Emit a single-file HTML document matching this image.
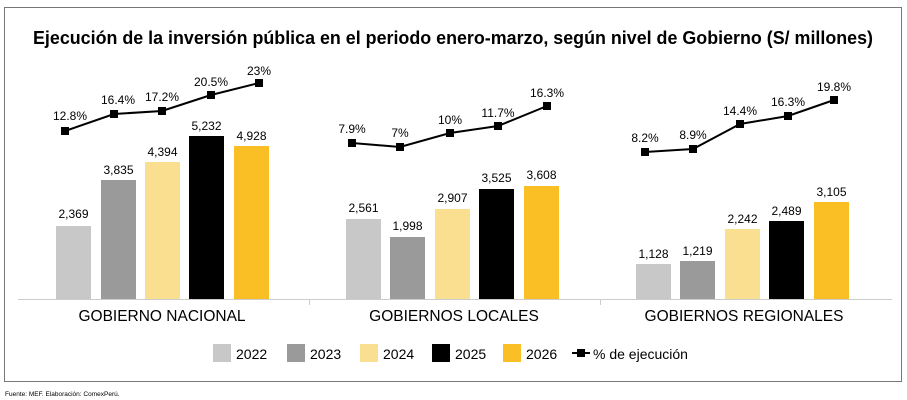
<!DOCTYPE html><html><head><meta charset="utf-8"><style>
body{margin:0;background:#fff;}
svg{display:block;font-family:"Liberation Sans",Arial,sans-serif;}
</style></head><body>
<svg width="907" height="400" viewBox="0 0 907 400">
<rect x="4.5" y="7.5" width="897" height="374" fill="#fff" stroke="#777" stroke-width="1"/>
<text x="33" y="44" font-size="18" font-weight="bold" textLength="840" lengthAdjust="spacingAndGlyphs">Ejecución de la inversión pública en el periodo enero-marzo, según nivel de Gobierno (S/ millones)</text>
<line x1="18" y1="299.5" x2="892" y2="299.5" stroke="#ccc"/>
<line x1="309.5" y1="299" x2="309.5" y2="305" stroke="#ccc"/>
<line x1="600.5" y1="299" x2="600.5" y2="305" stroke="#ccc"/>
<g font-size="12" text-anchor="middle">
<rect x="56" y="226" width="35" height="73" fill="#c8c8c8"/><text x="73.5" y="218">2,369</text>
<rect x="101" y="180" width="35" height="119" fill="#9b9a9a"/><text x="118.5" y="174">3,835</text>
<rect x="145" y="162" width="35" height="137" fill="#fbdf90"/><text x="162.5" y="156">4,394</text>
<rect x="189" y="136" width="35" height="163" fill="#000"/><text x="206.5" y="130">5,232</text>
<rect x="234" y="146" width="35" height="153" fill="#fbbf26"/><text x="251.5" y="140">4,928</text>
<rect x="346" y="219" width="35" height="80" fill="#c8c8c8"/><text x="363.5" y="212">2,561</text>
<rect x="390" y="237" width="35" height="62" fill="#9b9a9a"/><text x="407.5" y="230">1,998</text>
<rect x="435" y="209" width="35" height="90" fill="#fbdf90"/><text x="452.5" y="202">2,907</text>
<rect x="479" y="189" width="35" height="110" fill="#000"/><text x="496.5" y="182">3,525</text>
<rect x="524" y="186" width="35" height="113" fill="#fbbf26"/><text x="541.5" y="179">3,608</text>
<rect x="636" y="264" width="35" height="35" fill="#c8c8c8"/><text x="653.5" y="258">1,128</text>
<rect x="680" y="261" width="35" height="38" fill="#9b9a9a"/><text x="697.5" y="255">1,219</text>
<rect x="725" y="229" width="35" height="70" fill="#fbdf90"/><text x="742.5" y="223">2,242</text>
<rect x="769" y="221" width="35" height="78" fill="#000"/><text x="786.5" y="215">2,489</text>
<rect x="814" y="202" width="35" height="97" fill="#fbbf26"/><text x="831.5" y="196">3,105</text>
<polyline points="65,131 114,114 162,111 211,95 259,83" fill="none" stroke="#000" stroke-width="2"/>
<polyline points="352,143 400,147 450,133 498,126 547,106" fill="none" stroke="#000" stroke-width="2"/>
<polyline points="645,152 693,149 740,124 788,116 834,100" fill="none" stroke="#000" stroke-width="2"/>
<g fill="#000">
<rect x="61" y="127" width="8" height="8"/><rect x="110" y="110" width="8" height="8"/><rect x="158" y="107" width="8" height="8"/><rect x="207" y="91" width="8" height="8"/><rect x="255" y="79" width="8" height="8"/>
<rect x="348" y="139" width="8" height="8"/><rect x="396" y="143" width="8" height="8"/><rect x="446" y="129" width="8" height="8"/><rect x="494" y="122" width="8" height="8"/><rect x="543" y="102" width="8" height="8"/>
<rect x="641" y="148" width="8" height="8"/><rect x="689" y="145" width="8" height="8"/><rect x="736" y="120" width="8" height="8"/><rect x="784" y="112" width="8" height="8"/><rect x="830" y="96" width="8" height="8"/>
</g>
<text x="70" y="120">12.8%</text><text x="118" y="104">16.4%</text><text x="162" y="101">17.2%</text><text x="211" y="86">20.5%</text><text x="259" y="75">23%</text>
<text x="352" y="133">7.9%</text><text x="400" y="137">7%</text><text x="450" y="124">10%</text><text x="498" y="117">11.7%</text><text x="547" y="97">16.3%</text>
<text x="645" y="142">8.2%</text><text x="693" y="139">8.9%</text><text x="740" y="115">14.4%</text><text x="788" y="106">16.3%</text><text x="834" y="91">19.8%</text>
</g>
<g font-size="15.5" text-anchor="middle">
<text x="162" y="321">GOBIERNO NACIONAL</text>
<text x="454" y="321">GOBIERNOS LOCALES</text>
<text x="744" y="321">GOBIERNOS REGIONALES</text>
</g>
<g font-size="14">
<rect x="213" y="344" width="18" height="18" fill="#c8c8c8"/><text x="236" y="359">2022</text>
<rect x="287" y="344" width="18" height="18" fill="#9b9a9a"/><text x="310" y="359">2023</text>
<rect x="360" y="344" width="18" height="18" fill="#fbdf90"/><text x="383" y="359">2024</text>
<rect x="432" y="344" width="18" height="18" fill="#000"/><text x="455" y="359">2025</text>
<rect x="503" y="344" width="18" height="18" fill="#fbbf26"/><text x="526" y="359">2026</text>
<line x1="572" y1="353" x2="590" y2="353" stroke="#000" stroke-width="2"/><rect x="577" y="349" width="8" height="8" fill="#000"/>
<text x="593" y="359">% de ejecución</text>
</g>
<text x="5" y="396" font-size="6.5">Fuente: MEF. Elaboración: ComexPerú.</text>
</svg>
</body></html>
